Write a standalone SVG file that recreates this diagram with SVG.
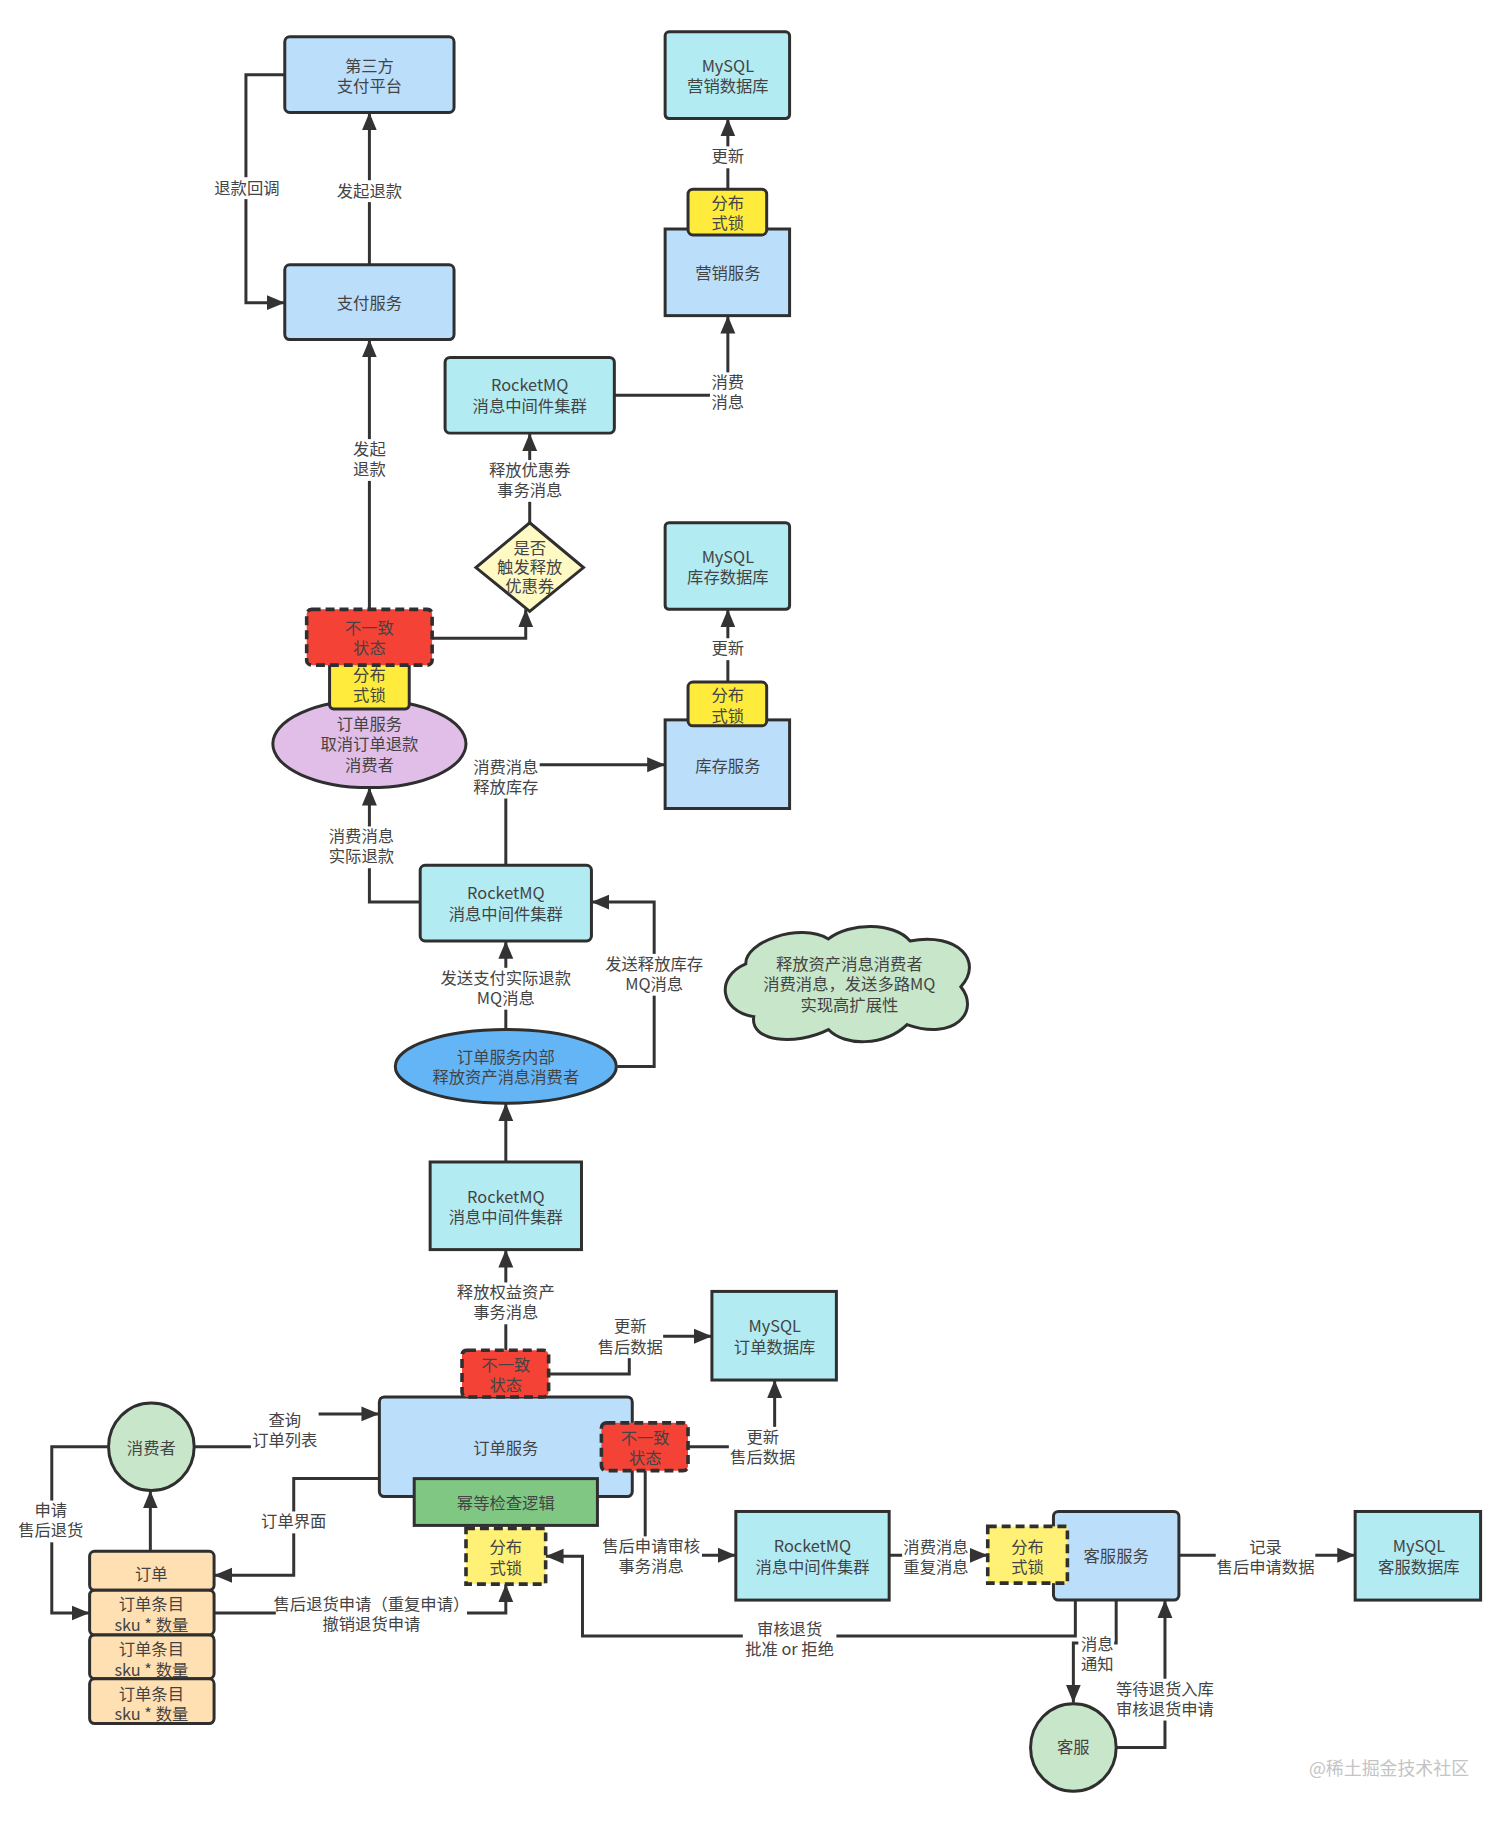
<svg xmlns="http://www.w3.org/2000/svg" width="1512" height="1822" viewBox="0 0 1512 1822">
<defs>
<marker id="arrow" markerUnits="userSpaceOnUse" markerWidth="19" markerHeight="16" refX="18" refY="8" orient="auto"><path d="M0,0.5 L18,8 L0,15.5 Z" fill="#333"/></marker>
</defs>
<style>
text{font-family:"Noto Sans CJK SC","Noto Sans",sans-serif;font-size:16.4px;fill:#444;text-anchor:middle}
.line{fill:none;stroke:#333;stroke-width:3;marker-end:url(#arrow)}
.bg{fill:#fff}
.s{stroke:#2f2f2f;stroke-width:3}
.blue{fill:#bbdefb}.teal{fill:#b2ebf2}.yellow{fill:#ffeb3b}.paleyellow{fill:#fff176}.red{fill:#f44336}.purple{fill:#e1bee7}.midblue{fill:#64b5f6}.green{fill:#c8e6c9}.orange{fill:#ffe0b2}.dgreen{fill:#81c784}.cream{fill:#fff9c4}
.dash{stroke-dasharray:9 5;stroke-width:3.6}
.wm{font-size:18px;fill:#c4c4c4}
</style>
<g id="diagram" transform="scale(0.9957)">
<g id="connectors">
<path class="line" d="M286,75 H247 V304 H286"/>
<path class="line" d="M371,266 V113"/>
<path class="line" d="M371,612 V341"/>
<path class="line" d="M434,641 H528 V612"/>
<path class="line" d="M532,525 V435"/>
<path class="line" d="M617,397 H731 V317"/>
<path class="line" d="M731,190 V119"/>
<path class="line" d="M731,685 V612"/>
<path class="line" d="M508,869 V768 H668"/>
<path class="line" d="M422,906 H371 V791"/>
<path class="line" d="M508,1034 V945"/>
<path class="line" d="M620,1071 H657 V906 H594"/>
<path class="line" d="M508,1167 V1108"/>
<path class="line" d="M508,1356 V1255"/>
<path class="line" d="M551,1380 H632 V1342 H715"/>
<path class="line" d="M691,1453 H778 V1386"/>
<path class="line" d="M195,1453 H286 V1420 H381"/>
<path class="line" d="M381,1485 H295 V1582 H215"/>
<path class="line" d="M151,1558 V1497"/>
<path class="line" d="M108,1453 H52 V1620 H90"/>
<path class="line" d="M215,1620 H508 V1591"/>
<path class="line" d="M1080,1607 V1643 H585 V1563 H548"/>
<path class="line" d="M648,1477 V1562 H739"/>
<path class="line" d="M893,1562 H992"/>
<path class="line" d="M1184,1562 H1361"/>
<path class="line" d="M1121,1607 V1650 H1078 V1710"/>
<path class="line" d="M1121,1755 H1170 V1607"/>
<g id="labels">
<rect class="bg" x="213" y="178" width="68" height="22"/><text x="248" y="195">退款回调</text>
<rect class="bg" x="337" y="181" width="68" height="22"/><text x="371" y="198">发起退款</text>
<rect class="bg" x="353" y="441" width="36" height="42"/><text x="371" y="457">发起</text><text x="371" y="477">退款</text>
<rect class="bg" x="490" y="462" width="84" height="42"/><text x="532" y="478">释放优惠券</text><text x="532" y="498">事务消息</text>
<rect class="bg" x="713" y="374" width="36" height="42"/><text x="731" y="390">消费</text><text x="731" y="410">消息</text>
<rect class="bg" x="713" y="147" width="36" height="22"/><text x="731" y="163">更新</text>
<rect class="bg" x="713" y="641" width="36" height="22"/><text x="731" y="657">更新</text>
<rect class="bg" x="474" y="760" width="68" height="42"/><text x="508" y="776">消费消息</text><text x="508" y="796">释放库存</text>
<rect class="bg" x="329" y="830" width="68" height="42"/><text x="363" y="846">消费消息</text><text x="363" y="866">实际退款</text>
<rect class="bg" x="440" y="972" width="136" height="42"/><text x="508" y="988">发送支付实际退款</text><text x="508" y="1008">MQ消息</text>
<rect class="bg" x="607" y="958" width="100" height="42"/><text x="657" y="974">发送释放库存</text><text x="657" y="994">MQ消息</text>
<rect class="bg" x="457" y="1288" width="102" height="42"/><text x="508" y="1304">释放权益资产</text><text x="508" y="1324">事务消息</text>
<rect class="bg" x="598" y="1322" width="68" height="42"/><text x="633" y="1338">更新</text><text x="633" y="1359">售后数据</text>
<rect class="bg" x="732" y="1433" width="68" height="42"/><text x="766" y="1449">更新</text><text x="766" y="1469">售后数据</text>
<rect class="bg" x="252" y="1416" width="68" height="42"/><text x="286" y="1432">查询</text><text x="286" y="1452">订单列表</text>
<rect class="bg" x="261" y="1518" width="68" height="22"/><text x="295" y="1534">订单界面</text>
<rect class="bg" x="277" y="1601" width="192" height="42"/><text x="373" y="1617">售后退货申请（重复申请）</text><text x="373" y="1637">撤销退货申请</text>
<rect class="bg" x="17" y="1507" width="68" height="42"/><text x="51" y="1523">申请</text><text x="51" y="1543">售后退货</text>
<rect class="bg" x="746" y="1626" width="94" height="42"/><text x="793" y="1642">审核退货</text><text x="793" y="1662">批准 or 拒绝</text>
<rect class="bg" x="603" y="1543" width="102" height="42"/><text x="654" y="1559">售后申请审核</text><text x="654" y="1579">事务消息</text>
<rect class="bg" x="906" y="1544" width="68" height="42"/><text x="940" y="1560">消费消息</text><text x="940" y="1580">重复消息</text>
<rect class="bg" x="1221" y="1544" width="100" height="42"/><text x="1271" y="1560">记录</text><text x="1271" y="1580">售后申请数据</text>
<rect class="bg" x="1083" y="1641" width="36" height="42"/><text x="1102" y="1657">消息</text><text x="1102" y="1677">通知</text>
<rect class="bg" x="1120" y="1686" width="100" height="42"/><text x="1170" y="1702">等待退货入库</text><text x="1170" y="1722">审核退货申请</text>
</g>
</g>
<g id="third-party"><rect class="blue s" x="286" y="37" width="170" height="76" rx="5"/><text x="371" y="72">第三方</text><text x="371" y="92">支付平台</text></g>
<g id="pay-service"><rect class="blue s" x="286" y="266" width="170" height="75" rx="5"/><text x="371" y="310">支付服务</text></g>
<g id="mysql-marketing"><rect class="teal s" x="668" y="32" width="125" height="87" rx="4"/><text x="731" y="72">MySQL</text><text x="731" y="92">营销数据库</text></g>
<g id="marketing-service"><rect class="blue s" x="668" y="230" width="125" height="87"/><text x="731" y="280">营销服务</text></g>
<g id="lock-marketing"><rect class="yellow s" x="691" y="190" width="79" height="46" rx="5"/><text x="731" y="210">分布</text><text x="731" y="230">式锁</text></g>
<g id="mq-top"><rect class="teal s" x="447" y="359" width="170" height="76" rx="5"/><text x="532" y="393">RocketMQ</text><text x="532" y="414">消息中间件集群</text></g>
<g id="decision"><path class="cream s" d="M532,525 L586,570 L532,614 L478,570 Z"/><text x="532" y="556">是否</text><text x="532" y="575">触发释放</text><text x="532" y="595">优惠券</text></g>
<g id="mysql-stock"><rect class="teal s" x="668" y="525" width="125" height="87" rx="4"/><text x="731" y="565">MySQL</text><text x="731" y="586">库存数据库</text></g>
<g id="stock-service"><rect class="blue s" x="668" y="723" width="125" height="89"/><text x="731" y="775">库存服务</text></g>
<g id="lock-stock"><rect class="yellow s" x="691" y="685" width="79" height="44" rx="5"/><text x="731" y="704">分布</text><text x="731" y="725">式锁</text></g>
<g id="cancel-consumer"><ellipse class="purple s" cx="371" cy="747" rx="97" ry="44"/><text x="371" y="733">订单服务</text><text x="371" y="753">取消订单退款</text><text x="371" y="774">消费者</text></g>
<g id="lock-cancel"><rect class="yellow s" x="331" y="660" width="80" height="52" rx="4"/><text x="371" y="684">分布</text><text x="371" y="704">式锁</text></g>
<g id="state-cancel"><rect class="red s dash" x="308" y="612" width="126" height="56" rx="5"/><text x="371" y="637">不一致</text><text x="371" y="657">状态</text></g>
<g id="mq-middle"><rect class="teal s" x="422" y="869" width="172" height="76" rx="5"/><text x="508" y="903">RocketMQ</text><text x="508" y="924">消息中间件集群</text></g>
<g id="cloud-note"><path class="green s" d="M749,968 C748,946 803,926 832,943 C853,926 898,926 914,945 C963,936 988,966 965,991 C985,1016 958,1046 911,1029 C888,1051 848,1051 832,1034 C798,1051 753,1046 757,1021 C723,1016 718,981 749,968 Z"/><text x="853" y="974">释放资产消息消费者</text><text x="853" y="994">消费消息，发送多路MQ</text><text x="853" y="1015">实现高扩展性</text></g>
<g id="release-consumer"><ellipse class="midblue s" cx="508" cy="1071" rx="111" ry="37"/><text x="508" y="1068">订单服务内部</text><text x="508" y="1088">释放资产消息消费者</text></g>
<g id="mq-lower"><rect class="teal s" x="432" y="1167" width="152" height="88"/><text x="508" y="1208">RocketMQ</text><text x="508" y="1228">消息中间件集群</text></g>
<g id="order-service"><rect class="blue s" x="381" y="1403" width="254" height="100" rx="5"/><text x="508" y="1460">订单服务</text></g>
<g id="idempotent"><rect class="dgreen s" x="416" y="1485" width="184" height="47"/><text x="508" y="1516">幂等检查逻辑</text></g>
<g id="state-top"><rect class="red s dash" x="464" y="1356" width="87" height="47" rx="5"/><text x="508" y="1377">不一致</text><text x="508" y="1397">状态</text></g>
<g id="state-right"><rect class="red s dash" x="604" y="1429" width="87" height="48" rx="5"/><text x="648" y="1450">不一致</text><text x="648" y="1470">状态</text></g>
<g id="mysql-order"><rect class="teal s" x="715" y="1297" width="125" height="89"/><text x="778" y="1338">MySQL</text><text x="778" y="1359">订单数据库</text></g>
<g id="lock-order"><rect class="paleyellow s dash" x="468" y="1535" width="80" height="56"/><text x="508" y="1560">分布</text><text x="508" y="1581">式锁</text></g>
<g id="consumer"><ellipse class="green s" cx="152" cy="1453" rx="43" ry="44"/><text x="152" y="1460">消费者</text></g>
<g id="order"><rect class="orange s" x="90" y="1558" width="125" height="39" rx="5"/><text x="152" y="1587">订单</text></g>
<g id="order-item-1"><rect class="orange s" x="90" y="1597" width="125" height="45" rx="5"/><text x="152" y="1617">订单条目</text><text x="152" y="1638">sku * 数量</text></g>
<g id="order-item-2"><rect class="orange s" x="90" y="1642" width="125" height="44" rx="5"/><text x="152" y="1662">订单条目</text><text x="152" y="1683">sku * 数量</text></g>
<g id="order-item-3"><rect class="orange s" x="90" y="1686" width="125" height="45" rx="5"/><text x="152" y="1707">订单条目</text><text x="152" y="1727">sku * 数量</text></g>
<g id="mq-service"><rect class="teal s" x="739" y="1518" width="154" height="89"/><text x="816" y="1559">RocketMQ</text><text x="816" y="1580">消息中间件集群</text></g>
<g id="cs-service"><rect class="blue s" x="1058" y="1518" width="126" height="89" rx="5"/><text x="1121" y="1569">客服服务</text></g>
<g id="lock-cs"><rect class="paleyellow s dash" x="992" y="1533" width="80" height="57"/><text x="1032" y="1560">分布</text><text x="1032" y="1580">式锁</text></g>
<g id="mysql-cs"><rect class="teal s" x="1361" y="1518" width="126" height="89"/><text x="1425" y="1559">MySQL</text><text x="1425" y="1580">客服数据库</text></g>
<g id="cs-agent"><ellipse class="green s" cx="1078" cy="1755" rx="43" ry="44"/><text x="1078" y="1761">客服</text></g>
<text class="wm" x="1395" y="1783">@稀土掘金技术社区</text>
</g>
</svg>
